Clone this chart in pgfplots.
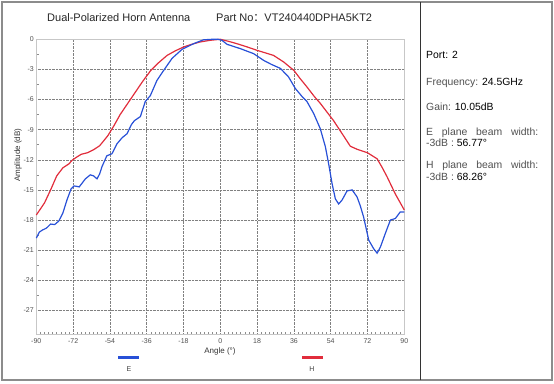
\documentclass[border=0pt]{standalone}
\usepackage{pgfplots}
\pgfplotsset{compat=1.18}
\usepackage{fontspec}
\setmainfont{Liberation Sans}
\newfontfamily\cjk{Noto Sans CJK SC}
\definecolor{eblue}{RGB}{40,80,215}
\definecolor{hred}{RGB}{225,45,60}
\definecolor{lab}{RGB}{80,80,80}
\begin{document}
\begin{tikzpicture}[x=1pt,y=1pt]
\useasboundingbox (0,0) rectangle (554,383);
\draw[line width=1.6pt, color={rgb,255:red,140;green,140;blue,140}] (2,3) rectangle (552,381);
\draw[line width=0.8pt, color=black!80] (420.5,3) -- (420.5,381);
\begin{axis}[
  at={(36.3pt,48.5pt)}, anchor=south west,
  scale only axis, width=368pt, height=295.2pt,
  xmin=-90, xmax=90, ymin=-29.4, ymax=0,
  xtick={-90,-72,...,90}, ytick={0,-3,...,-27},
  minor x tick num=8, minor y tick num=1,
  xtick pos=bottom, ytick pos=left,
  tick align=inside,
  major tick length=0pt, minor tick length=3pt,
  every tick/.style={color=black!45, line width=0.5pt},
  grid=major,
  major grid style={densely dotted, color=black!50, line width=0.55pt},
  axis line style={color=black!22, line width=0.7pt},
  tick label style={font=\fontsize{7}{8}\selectfont, color=lab},
  /pgf/number format/assume math mode=true,
  xticklabel style={yshift=-1pt},
  yticklabel style={xshift=1pt},
  clip=false,
]
\addplot[color=hred, line width=1.2pt] coordinates {
(-90,-17.5) (-86,-16.3) (-83,-15.0) (-80,-13.6) (-77,-12.8) (-74,-12.4) (-72.5,-12.05)
(-70,-11.7) (-68,-11.45) (-65,-11.3) (-62,-11.0) (-59,-10.6) (-57,-10.1) (-55,-9.6)
(-52,-8.6) (-49,-7.5) (-47,-6.9) (-44,-6.0) (-41,-5.1) (-38,-4.2) (-34,-3.1) (-30,-2.3)
(-26,-1.6) (-22,-1.15) (-18,-0.77) (-14,-0.5) (-10,-0.27) (-5,-0.1) (0,0) (4,-0.2)
(8,-0.43) (13,-0.75) (18,-1.1) (22,-1.35) (26,-1.6) (31,-2.26) (36,-3.1) (39,-3.9)
(42.4,-4.75) (46,-5.7) (49,-6.4) (52,-7.2) (55.4,-8.1) (59.6,-9.4) (63.6,-10.65)
(67,-10.96) (72,-11.3) (76.7,-11.9) (79,-12.7) (81.6,-13.7) (85.6,-15.4) (90,-17.0)
};
\addplot[color=eblue, line width=1.2pt] coordinates {
(-90,-19.8) (-88.5,-19.2) (-87,-19.0) (-85,-18.8) (-83,-18.4) (-81,-18.45) (-79,-18.1)
(-77,-17.3) (-75,-16.0) (-73,-14.9) (-71.5,-14.6) (-69,-14.7) (-67.5,-14.3) (-66,-13.9)
(-63.6,-13.5) (-62,-13.6) (-60.3,-13.9) (-59,-13.4) (-57.9,-12.7) (-55.5,-11.6) (-53,-11.4)
(-50.5,-10.4) (-48,-9.8) (-45.6,-9.4) (-43.5,-8.5) (-42,-8.1) (-39.1,-7.7) (-36.7,-6.2)
(-34.2,-5.6) (-31,-4.1) (-27.7,-3.1) (-23.6,-1.9) (-18.7,-1.0) (-13,-0.43) (-8.2,-0.05)
(-4,0) (-1,0) (0.8,-0.1) (3.3,-0.5) (9.8,-0.93) (16.3,-1.43) (21.2,-2.1) (25,-2.5)
(29.4,-2.9) (33.4,-3.75) (36.7,-4.9) (40,-5.7) (42.4,-6.2) (45.7,-7.4) (48.9,-8.9)
(51.4,-10.7) (53,-12.4) (54.7,-14.4) (56.3,-15.9) (57.9,-16.4) (59.6,-16.0) (62,-15.1)
(64.5,-15.0) (66.9,-15.7) (68.5,-16.6) (70.1,-17.7) (72.6,-20.0) (75,-20.85) (76.7,-21.3)
(78.3,-20.7) (80.7,-19.35) (83.2,-18.0) (85.6,-17.85) (88,-17.2) (90,-17.2)
};
\end{axis}
% title
\node[anchor=base west, inner sep=0pt, font=\fontsize{11}{13}\selectfont, color=black!85] at (47,361) {Dual-Polarized Horn Antenna};
\node[anchor=base west, inner sep=0pt, font=\fontsize{11}{13}\selectfont, color=black!85] at (216,361) {Part No{\cjk ：}VT240440DPHA5KT2};
% axis labels
\node[font=\fontsize{8}{9}\selectfont, color=black!80] at (220,32) {Angle (°)};
\node[rotate=90, font=\fontsize{8}{9}\selectfont, color=black!80] at (18,228) {Amplitude (dB)};
% legend
\draw[color=eblue, line width=2.6pt] (118,25.5) -- (139,25.5);
\node[font=\fontsize{7}{8}\selectfont, color=black!75] at (129,14) {E};
\draw[color=hred, line width=2.6pt] (302,25.5) -- (323,25.5);
\node[font=\fontsize{7}{8}\selectfont, color=black!75] at (312,14) {H};
% right panel
\begin{scope}[every node/.style={anchor=base west, inner sep=0pt, font=\fontsize{10.4}{12}\selectfont}]
\node[color=black] at (426,324) {Port: 2};
\node at (426,297.5) {\textcolor{lab}{Frequency:} 24.5GHz};
\node at (426,272) {\textcolor{lab}{Gain:} 10.05dB};
\node[color=lab] at (426,247.5) {\makebox[112pt][s]{E plane beam width:}};
\node at (426,236) {\textcolor{lab}{-3dB :} 56.77°};
\node[color=lab] at (426,214.5) {\makebox[112pt][s]{H plane beam width:}};
\node at (426,202.5) {\textcolor{lab}{-3dB :} 68.26°};
\end{scope}
\end{tikzpicture}
\end{document}
